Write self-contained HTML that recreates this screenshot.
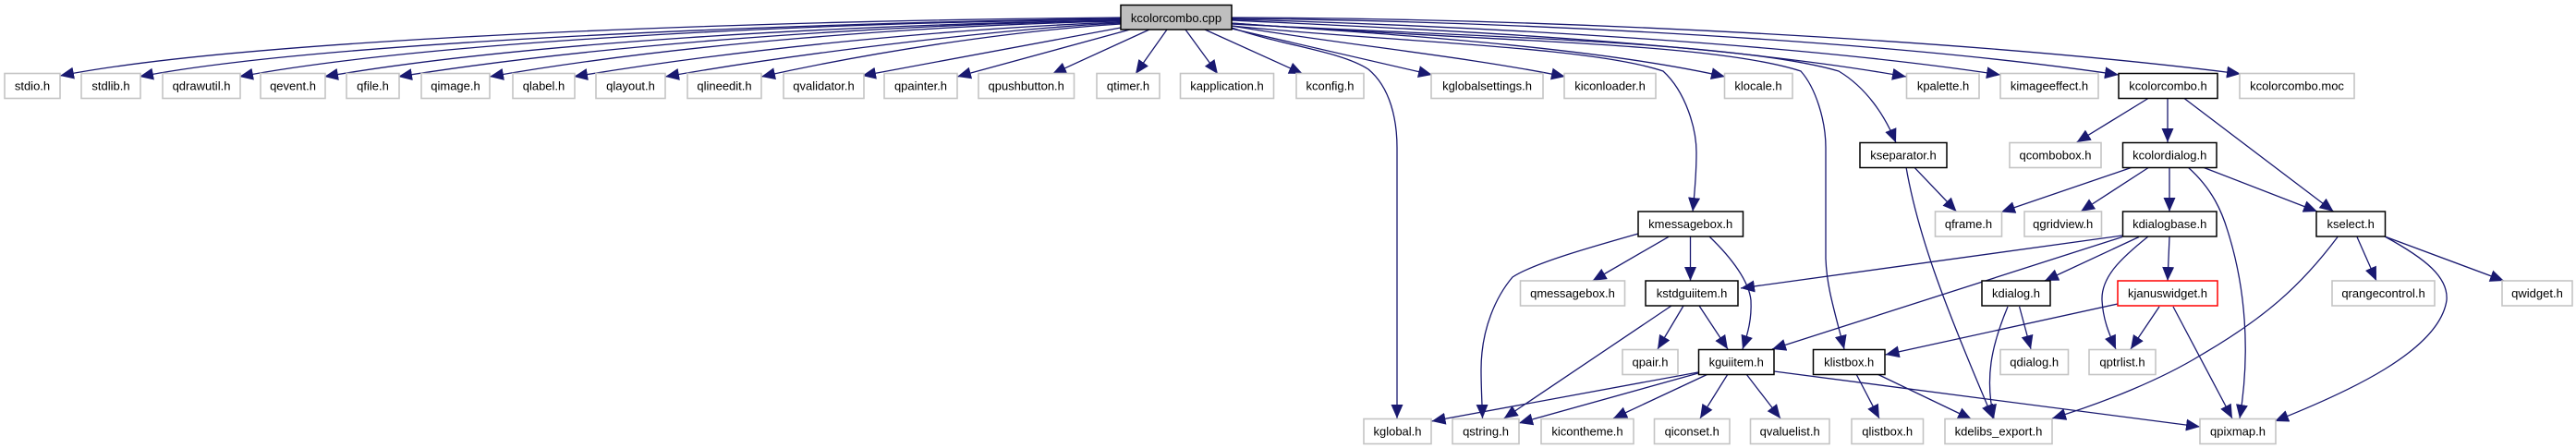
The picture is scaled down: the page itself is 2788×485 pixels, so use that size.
<!DOCTYPE html>
<html>
<head>
<meta charset="utf-8">
<style>
html,body{margin:0;padding:0;background:#fff;width:2788px;height:485px;overflow:hidden}
svg{display:block}
text{font-family:"Liberation Sans",sans-serif;font-size:13px;fill:#000;text-anchor:middle}
.e path{fill:none;stroke:#191970;stroke-width:1.3;marker-end:url(#a)}
.b rect{fill:#fff;stroke:#c4c4c4;stroke-width:1.6}
.k rect{fill:#fff;stroke:#000;stroke-width:1.5}
</style>
</head>
<body>
<svg width="2788" height="485" viewBox="0 0 2788 485" xmlns="http://www.w3.org/2000/svg">
<defs>
<marker id="a" markerUnits="userSpaceOnUse" markerWidth="18" markerHeight="14" refX="15" refY="6.5" orient="auto">
<path d="M0,0 L15,6.5 L0,13 z" fill="#191970"/>
</marker>
</defs>
<g class="e">
<path d="M1213,19 C850,22 280,40 65,82"/>
<path d="M1213,20 C850,25 340,46 151,83"/>
<path d="M1213,21 C850,25 450,47 259,83"/>
<path d="M1213,22 C900,27 560,47 351,83"/>
<path d="M1213,22 C950,27 650,48 431,83"/>
<path d="M1213,23 C1000,27 730,48 530,83"/>
<path d="M1213,24 C1050,30 820,50 621,83"/>
<path d="M1213,25 C1100,30 880,55 720,83"/>
<path d="M1213,26 C1100,33 950,55 824,83"/>
<path d="M1213,30 L933,82"/>
<path d="M1223,32 L1036,83"/>
<path d="M1244,32 L1139,80"/>
<path d="M1263,32 L1229,80"/>
<path d="M1283,32 L1318,80"/>
<path d="M1304,32 L1410,80"/>
<path d="M1333,31 L1550,81"/>
<path d="M1333,28 C1450,48 1580,60 1694,83"/>
<path d="M1333,25 C1500,37 1720,50 1867,83"/>
<path d="M1333,22 C1550,32 1850,45 2063,83"/>
<path d="M1333,21 C1600,28 1950,48 2165,81"/>
<path d="M1333,20 C1650,23 2050,45 2293,81"/>
<path d="M1333,19 C1700,20 2150,45 2425,80"/>
<path d="M1333,30 C1390,50 1450,55 1481,75 C1505,95 1512,130 1512,160 L1512,453"/>
<path d="M1333,28 C1500,45 1720,50 1800,77 C1825,100 1836,140 1836,165 C1836,190 1834,210 1832,229"/>
<path d="M1333,25 C1600,45 1850,45 1949,77 C1965,95 1976,130 1976,160 L1976,280 C1977,310 1985,335 1996,378"/>
<path d="M1333,26 C1600,40 1880,45 1990,77 C2020,95 2040,125 2052,154.5"/>
<path d="M2325,106.5 L2247.6,154"/>
<path d="M2346,106.5 L2346,154"/>
<path d="M2364,106.5 L2525.6,229"/>
<path d="M2072,181.3 L2117.5,229"/>
<path d="M2063,181 C2075,250 2100,320 2157,453"/>
<path d="M2308,181 L2166,229.5"/>
<path d="M2326,181 L2252,229"/>
<path d="M2348,181 L2348,229"/>
<path d="M2368,181 C2395,205 2405,230 2411,250 C2430,310 2436,380 2424,453"/>
<path d="M2384,181 L2508,229"/>
<path d="M2297,255 L1884,312"/>
<path d="M2297,256.5 L1918,378"/>
<path d="M2315,256.5 L2213,304"/>
<path d="M2325,256 C2295,280 2274,300 2275,325 C2276,345 2282,360 2290,378"/>
<path d="M2348,256.5 L2346,304"/>
<path d="M2530,256.5 C2490,310 2450,345 2381,385 C2340,410 2280,435 2221,453"/>
<path d="M2551,256.5 L2572,304"/>
<path d="M2581,256 L2710,304"/>
<path d="M2581,256 C2625,280 2650,300 2648,325 C2640,380 2540,425 2462,456"/>
<path d="M2292,329 L2040.6,384"/>
<path d="M2337,332 L2306,378"/>
<path d="M2352,332 L2416,453"/>
<path d="M2185.6,332 L2198,378"/>
<path d="M2173,332 C2155,375 2148,410 2158,453"/>
<path d="M2031.7,405 L2134,454"/>
<path d="M2009,405 L2034,453"/>
<path d="M1838,403 L1549.5,456"/>
<path d="M1838,404 L1644,458"/>
<path d="M1848.6,405 L1746,453"/>
<path d="M1870,405 L1840,453"/>
<path d="M1890,405 L1927,453"/>
<path d="M1920,402 L2381,462"/>
<path d="M1809,331 L1627.7,453"/>
<path d="M1822,331 L1794,378"/>
<path d="M1839,331 L1870,378"/>
<path d="M1806,256.3 L1723.6,304"/>
<path d="M1829.5,256 L1829.5,304"/>
<path d="M1850,256 C1875,280 1893,305 1895,325 C1896,345 1892,360 1886,378"/>
<path d="M1773,253 C1720,268 1660,285 1637,300 C1620,320 1603,355 1603,400 C1603,420 1604,435 1604.5,453"/>
</g>

<rect x="1213" y="5.5" width="120" height="26.5" fill="#bfbfbf" stroke="#000" stroke-width="1.5"/>
<text x="1273" y="24">kcolorcombo.cpp</text>

<g class="b">
<rect x="5" y="79.5" width="60" height="27"/><text x="35" y="97.5">stdio.h</text>
<rect x="88" y="79.5" width="64" height="27"/><text x="120" y="97.5">stdlib.h</text>
<rect x="176" y="79.5" width="84" height="27"/><text x="218" y="97.5">qdrawutil.h</text>
<rect x="282" y="79.5" width="70" height="27"/><text x="317" y="97.5">qevent.h</text>
<rect x="375" y="79.5" width="57" height="27"/><text x="403.5" y="97.5">qfile.h</text>
<rect x="456" y="79.5" width="74" height="27"/><text x="493" y="97.5">qimage.h</text>
<rect x="555" y="79.5" width="67" height="27"/><text x="588.5" y="97.5">qlabel.h</text>
<rect x="645" y="79.5" width="75" height="27"/><text x="682.5" y="97.5">qlayout.h</text>
<rect x="744" y="79.5" width="80" height="27"/><text x="784" y="97.5">qlineedit.h</text>
<rect x="848" y="79.5" width="87" height="27"/><text x="891.5" y="97.5">qvalidator.h</text>
<rect x="957" y="79.5" width="79" height="27"/><text x="996.5" y="97.5">qpainter.h</text>
<rect x="1059" y="79.5" width="103.500" height="27"/><text x="1110.7" y="97.5">qpushbutton.h</text>
<rect x="1187" y="79.5" width="68" height="27"/><text x="1221" y="97.5">qtimer.h</text>
<rect x="1277.5" y="79.5" width="101" height="27"/><text x="1328" y="97.5">kapplication.h</text>
<rect x="1403" y="79.5" width="73" height="27"/><text x="1439.5" y="97.5">kconfig.h</text>
<rect x="1549" y="79.5" width="121" height="27"/><text x="1609.5" y="97.5">kglobalsettings.h</text>
<rect x="1693" y="79.5" width="99" height="27"/><text x="1742.5" y="97.5">kiconloader.h</text>
<rect x="1866.5" y="79.5" width="73.5" height="27"/><text x="1903" y="97.5">klocale.h</text>
<rect x="2063.5" y="79.5" width="78.5" height="27"/><text x="2103" y="97.5">kpalette.h</text>
<rect x="2165" y="79.5" width="106" height="27"/><text x="2218" y="97.5">kimageeffect.h</text>
<rect x="2424" y="79.5" width="124" height="27"/><text x="2486" y="97.5">kcolorcombo.moc</text>
<rect x="2175" y="154.5" width="99" height="27"/><text x="2224.5" y="172.5">qcombobox.h</text>
<rect x="2094.500" y="229" width="72" height="27"/><text x="2130.5" y="247">qframe.h</text>
<rect x="2191" y="229" width="83.500" height="27"/><text x="2232.7" y="247">qgridview.h</text>
<rect x="1645.5" y="304" width="113" height="27"/><text x="1702" y="322">qmessagebox.h</text>
<rect x="2524" y="304" width="111" height="27"/><text x="2579.5" y="322">qrangecontrol.h</text>
<rect x="2708" y="304" width="76" height="27"/><text x="2746" y="322">qwidget.h</text>
<rect x="1756" y="378.500" width="60" height="27"/><text x="1786" y="396.5">qpair.h</text>
<rect x="2165" y="378.500" width="73.500" height="27"/><text x="2201.7" y="396.5">qdialog.h</text>
<rect x="2261" y="378.500" width="72" height="27"/><text x="2297" y="396.5">qptrlist.h</text>
<rect x="1476" y="453.500" width="73" height="27"/><text x="1512.5" y="471.5">kglobal.h</text>
<rect x="1572" y="453.500" width="72" height="27"/><text x="1608" y="471.5">qstring.h</text>
<rect x="1668" y="453.500" width="100" height="27"/><text x="1718" y="471.5">kicontheme.h</text>
<rect x="1790.5" y="453.500" width="81.500" height="27"/><text x="1831.2" y="471.5">qiconset.h</text>
<rect x="1894.5" y="453.500" width="85.500" height="27"/><text x="1937.2" y="471.5">qvaluelist.h</text>
<rect x="2004" y="453.500" width="77.500" height="27"/><text x="2042.7" y="471.5">qlistbox.h</text>
<rect x="2105" y="453.500" width="116" height="27"/><text x="2163" y="471.5">kdelibs_export.h</text>
<rect x="2381" y="453.500" width="82" height="27"/><text x="2422" y="471.5">qpixmap.h</text>
</g>

<g class="k">
<rect x="2293" y="79.5" width="107" height="27"/><text x="2346.5" y="97.5">kcolorcombo.h</text>
<rect x="2013" y="154.5" width="94" height="27"/><text x="2060" y="172.5">kseparator.h</text>
<rect x="2297.5" y="154.5" width="101.500" height="27"/><text x="2348.2" y="172.5">kcolordialog.h</text>
<rect x="1773" y="229" width="113.500" height="27"/><text x="1829.7" y="247">kmessagebox.h</text>
<rect x="2297.5" y="229" width="101.500" height="27"/><text x="2348.2" y="247">kdialogbase.h</text>
<rect x="2507" y="229" width="74.500" height="27"/><text x="2544.2" y="247">kselect.h</text>
<rect x="1781" y="304" width="100" height="27"/><text x="1831" y="322">kstdguiitem.h</text>
<rect x="2145" y="304" width="74" height="27"/><text x="2182" y="322">kdialog.h</text>
<rect x="1838.5" y="378.500" width="81.500" height="27"/><text x="1879.2" y="396.5">kguiitem.h</text>
<rect x="1962.5" y="378.500" width="77.500" height="27"/><text x="2001.2" y="396.5">klistbox.h</text>
</g>

<rect x="2292" y="304" width="108" height="27" fill="#fff" stroke="#f00" stroke-width="1.5"/>
<text x="2346" y="322">kjanuswidget.h</text>
</svg>
</body>
</html>
